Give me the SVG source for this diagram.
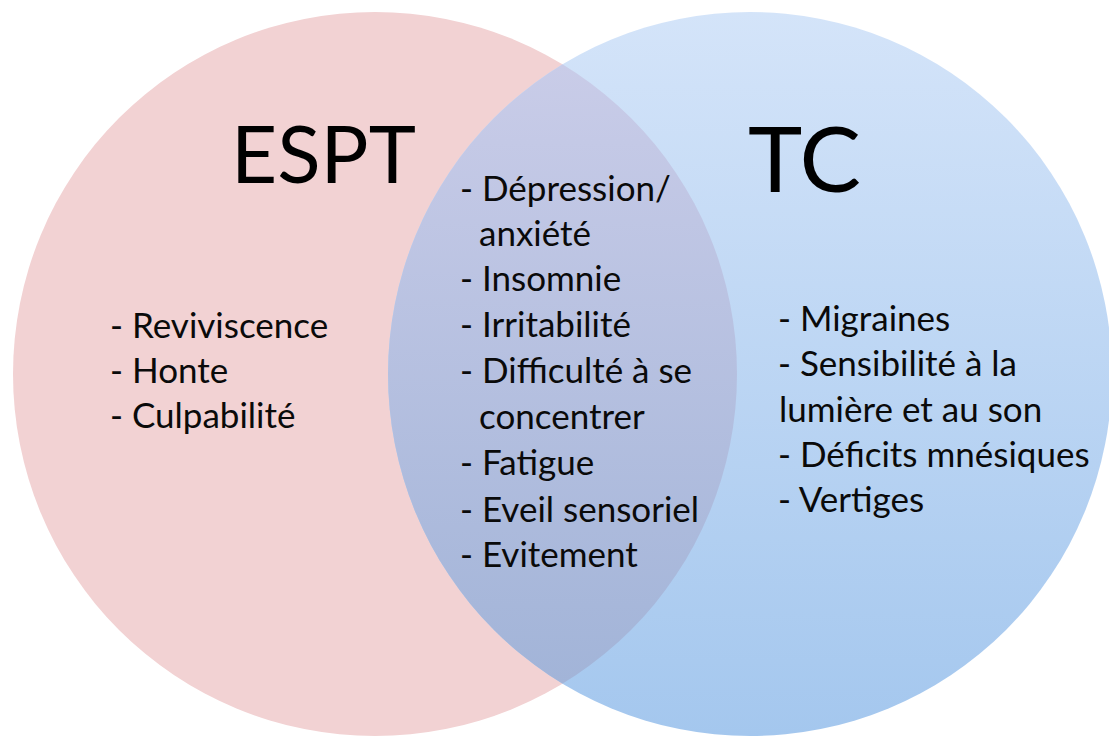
<svg xmlns="http://www.w3.org/2000/svg" width="1109" height="738" viewBox="0 0 1109 738">
  <defs>
    <linearGradient id="gTC" gradientUnits="userSpaceOnUse" x1="0" y1="12" x2="0" y2="736">
      <stop offset="0" stop-color="#d4e4f9"/>
      <stop offset="1" stop-color="#a4c7ee"/>
    </linearGradient>
    <linearGradient id="gLens" gradientUnits="userSpaceOnUse" x1="0" y1="64" x2="0" y2="684">
      <stop offset="0" stop-color="#c9cce8"/>
      <stop offset="1" stop-color="#a2b4d8"/>
    </linearGradient>
    <clipPath id="clipL">
      <circle cx="375" cy="374" r="362"/>
    </clipPath>
    <style>
      .item { font-family: Lato, "Liberation Sans", sans-serif; font-size: 35px; fill: #0a0a0a; }
      .title { font-family: Lato, "Liberation Sans", sans-serif; fill: #000; }
    </style>
  </defs>
  <rect width="1109" height="738" fill="#ffffff"/>
  <g id="espt">
    <circle cx="375" cy="374" r="362" fill="#f2d2d3"/>
  </g>
  <g id="tc">
    <circle cx="750" cy="374" r="362" fill="url(#gTC)"/>
  </g>
  <g id="overlap">
    <circle cx="750" cy="374" r="362" fill="url(#gLens)" clip-path="url(#clipL)"/>
  </g>
  <g id="connectors"/>
  <g id="espt-labels">
    <text class="title" x="231" y="183" font-size="80">ESPT</text>
    <text class="item" x="110" y="338">- Reviviscence</text>
    <text class="item" x="110" y="383">- Honte</text>
    <text class="item" x="110" y="428">- Culpabilité</text>
  </g>
  <g id="tc-labels">
    <text class="title" x="748" y="192" font-size="92">TC</text>
    <text class="item" x="778" y="331">- Migraines</text>
    <text class="item" x="778" y="376">- Sensibilité à la</text>
    <text class="item" x="779" y="422">lumière et au son</text>
    <text class="item" x="778" y="467">- Déficits mnésiques</text>
    <text class="item" x="778" y="512">- Vertiges</text>
  </g>
  <g id="overlap-labels">
    <text class="item" x="460" y="201">- Dépression/</text>
    <text class="item" x="479" y="246">anxiété</text>
    <text class="item" x="460" y="291">- Insomnie</text>
    <text class="item" x="460" y="337">- Irritabilité</text>
    <text class="item" x="460" y="383">- Difficulté à se</text>
    <text class="item" x="479" y="429">concentrer</text>
    <text class="item" x="460" y="475">- Fatigue</text>
    <text class="item" x="460" y="522">- Eveil sensoriel</text>
    <text class="item" x="460" y="567">- Evitement</text>
  </g>
</svg>
